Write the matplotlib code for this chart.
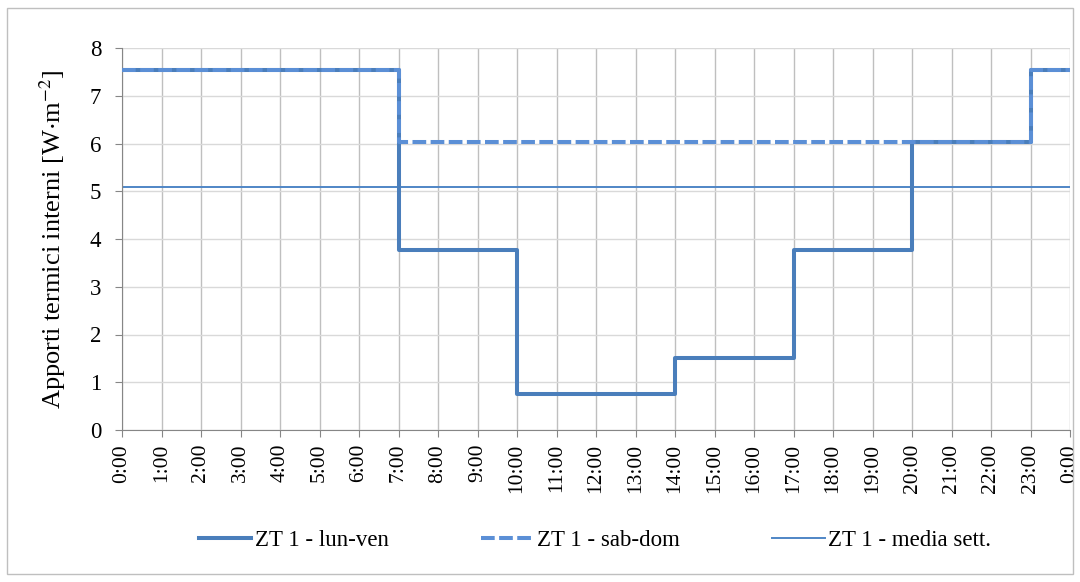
import matplotlib
matplotlib.use("Agg")
import matplotlib.pyplot as plt
from matplotlib.patches import Rectangle

# hourly values (W/m2), hour 0..23
hours = list(range(25))
lun_ven = [7.53, 7.53, 7.53, 7.53, 7.53, 7.53, 7.53,
           3.77, 3.77, 3.77,
           0.75, 0.75, 0.75, 0.75,
           1.51, 1.51, 1.51,
           3.77, 3.77, 3.77,
           6.03, 6.03, 6.03,
           7.53]
sab_dom = [7.53, 7.53, 7.53, 7.53, 7.53, 7.53, 7.53,
           6.03, 6.03, 6.03, 6.03, 6.03, 6.03, 6.03,
           6.03, 6.03, 6.03, 6.03, 6.03, 6.03,
           6.03, 6.03, 6.03,
           7.53]
media_sett = 5.09
hour_labels = [f"{h % 24}:00" for h in hours]

plt.rcParams['font.family'] = ['Liberation Serif', 'DejaVu Serif']
plt.rcParams['mathtext.fontset'] = 'stix'

fig = plt.figure(figsize=(10.8, 5.82), dpi=100)
fig.patches.append(Rectangle((7/1080, 8/582), 1066/1080, 566/582, transform=fig.transFigure,
                             fill=False, edgecolor='#bfbfbf', linewidth=1))
ax = fig.add_axes([122/1080, 1 - 430/582, 948/1080, 382/582])

ax.step(hours, lun_ven + [lun_ven[-1]], where='post', color='#4a7ebb', linewidth=2.9,
        label='ZT 1 - lun-ven', zorder=3)
ax.step(hours, sab_dom + [sab_dom[-1]], where='post', color='#5b8fd6', linewidth=2.9,
        dashes=(3.4, 1.1), label='ZT 1 - sab-dom', zorder=4)
ax.plot([hours[0], hours[-1]], [media_sett, media_sett], color='#4f86c6', linewidth=1.4,
        label='ZT 1 - media sett.', zorder=2)

ax.set_xlim(0, 24)
ax.set_ylim(0, 8)
ax.set_xticks(hours)
ax.set_xticklabels(hour_labels, rotation=90, fontsize=15.5)
ax.set_yticks(range(9))
ax.tick_params(axis='y', labelsize=16.5, length=5, pad=10, color='#868686')
ax.tick_params(axis='x', length=5, pad=5, color='#868686')
ax.grid(True, axis='x', color='#bfbfbf', linewidth=1)
ax.grid(True, axis='y', color='#d9d9d9', linewidth=1)
ax.set_axisbelow(True)
for s in ['top', 'right']:
    ax.spines[s].set_visible(False)
for s in ['left', 'bottom']:
    ax.spines[s].set_color('#868686')
ax.set_ylabel(r"Apporti termici interni [W$\cdot$m$^{-2}$]", fontsize=19)
ax.yaxis.set_label_coords(-0.057, 0.5)

ax.legend(loc='center', bbox_to_anchor=(0.499, -0.288), ncol=3, frameon=False,
          fontsize=16.5, handlelength=2.3, handletextpad=0.17, columnspacing=4.0)

fig.savefig("out.png", dpi=100)
